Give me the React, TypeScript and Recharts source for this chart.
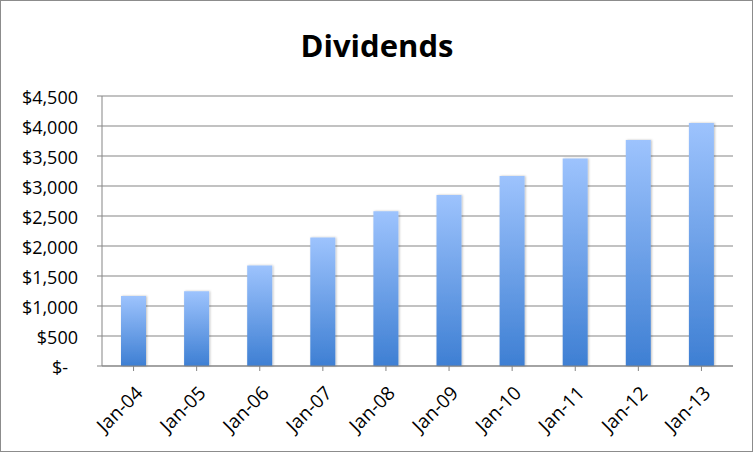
import React from "react";
import { BarChart, Bar, XAxis, YAxis, CartesianGrid } from "recharts";

const categories = ["Jan-04", "Jan-05", "Jan-06", "Jan-07", "Jan-08", "Jan-09", "Jan-10", "Jan-11", "Jan-12", "Jan-13"];
const dividends = [1165, 1245, 1675, 2140, 2580, 2850, 3165, 3460, 3765, 4050];
const yTicks = [0, 500, 1000, 1500, 2000, 2500, 3000, 3500, 4000, 4500];

const data = categories.map((c, i) => ({ name: c, value: dividends[i] }));

const FONT = "'Open Sans', sans-serif";

const fmt = (v: number) => (v === 0 ? "$-" : "$" + v.toLocaleString("en-US"));

const YTick = (props: any) => {
  const { x, y, payload } = props;
  const v = payload.value;
  return (
    <text x={v === 0 ? x - 10 : x} y={y} dy={8} textAnchor="end" fontSize={18} fill="#000" fontFamily={FONT}>
      {fmt(v)}
    </text>
  );
};

const XTick = (props: any) => {
  const { x, y, payload } = props;
  return (
    <g transform={`translate(${x - 1},${y + 6})`}>
      <text x={0} y={0} dy={16} textAnchor="end" transform="rotate(-45)" fontSize={19} fill="#000" fontFamily={FONT}>
        {payload.value}
      </text>
    </g>
  );
};

export default function App() {
  return (
    <div style={{ position: "absolute", left: 0, top: 0, width: 753, height: 453, background: "#fff" }}>
      <svg width={753} height={453} style={{ position: "absolute", left: 0, top: 0 }}>
        <rect x={0.5} y={0.5} width={752} height={451} fill="#fff" stroke="#8c8c8c" />
        <text x={377} y={57} textAnchor="middle" fontSize={31} fontWeight="bold" fontFamily={FONT} fill="#000">
          Dividends
        </text>
      </svg>
      <div style={{ position: "absolute", left: 0, top: 0 }}>
        <BarChart width={753} height={453} data={data} margin={{ top: 96, right: 20, bottom: 0, left: 0 }}>
          <defs>
            <linearGradient id="barGrad" x1="0" y1="0" x2="0" y2="1">
              <stop offset="0%" stopColor="#9dc3fd" />
              <stop offset="100%" stopColor="#3e7fd3" />
            </linearGradient>
            <filter id="shadow" x="-20%" y="-5%" width="140%" height="110%">
              <feDropShadow dx="1" dy="0" stdDeviation="1.2" floodColor="#000" floodOpacity="0.25" />
            </filter>
          </defs>
          <CartesianGrid vertical={false} stroke="#858585" strokeWidth={1} />
          <XAxis
            dataKey="name"
            height={87}
            tickLine={{ stroke: "#858585" }}
            axisLine={{ stroke: "#858585" }}
            tickSize={5}
            interval={0}
            tick={<XTick />}
            tickMargin={6}
          />
          <YAxis
            domain={[0, 4500]}
            ticks={yTicks}
            width={102}
            tickSize={5}
            tickMargin={19}
            tickLine={{ stroke: "#858585" }}
            axisLine={{ stroke: "#858585" }}
            tick={<YTick />}
            interval={0}
          />
          <Bar dataKey="value" fill="url(#barGrad)" barSize={25} isAnimationActive={false} style={{ filter: "url(#shadow)" }} />
        </BarChart>
      </div>
    </div>
  );
}
